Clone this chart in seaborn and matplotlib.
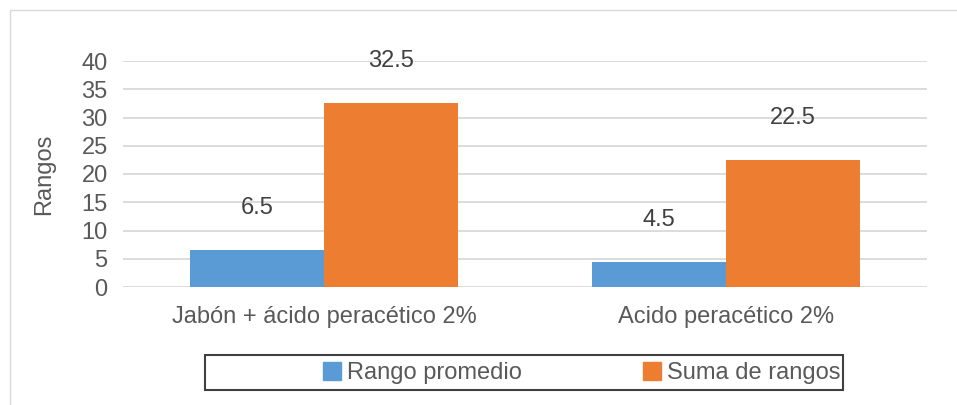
import matplotlib
matplotlib.use("Agg")
import matplotlib.pyplot as plt
from matplotlib.patches import Rectangle
import pandas as pd
import seaborn as sns

categories = ["Jabón + ácido peracético 2%", "Acido peracético 2%"]
series_names = ["Rango promedio", "Suma de rangos"]
rango_promedio = [6.5, 4.5]
suma_rangos = [32.5, 22.5]
yticks = [0, 5, 10, 15, 20, 25, 30, 35, 40]

colors = ["#5b9bd5", "#ed7d31"]
text_color = "#595959"
fs = 17

sns.set_theme(style="white")
plt.rcParams["font.family"] = ["Liberation Sans", "DejaVu Sans"]

df = pd.DataFrame({
    "Categoría": categories * 2,
    "Serie": [series_names[0]] * 2 + [series_names[1]] * 2,
    "Valor": rango_promedio + suma_rangos,
})

W, H = 957, 405
fig = plt.figure(figsize=(W / 100, H / 100), dpi=100)
ax = fig.add_axes([123 / W, 1 - 287 / H, (927 - 123) / W, (287 - 61) / H])

sns.barplot(data=df, x="Categoría", y="Valor", hue="Serie", hue_order=series_names,
            order=categories, palette=colors, width=0.667, saturation=1,
            ax=ax, zorder=3, linewidth=0)

ax.set_xlim(-0.5, 1.5)
ax.set_ylim(0, 40)
ax.set_yticks(yticks)
ax.set_yticklabels([str(v) for v in yticks])
ax.yaxis.grid(True, color="#d9d9d9", linewidth=1.3, zorder=0)
ax.xaxis.grid(False)
for s in ax.spines.values():
    s.set_visible(False)
ax.tick_params(axis="both", length=0, labelsize=fs, labelcolor=text_color)
ax.tick_params(axis="y", pad=11)
ax.tick_params(axis="x", pad=14)
ax.set_xlabel("")
ax.set_ylabel("Rangos", fontsize=fs, color=text_color, labelpad=19)

# value labels above each bar
for cont in ax.containers:
    for bar in cont:
        h = bar.get_height()
        ax.annotate(f"{h:.1f}", (bar.get_x() + bar.get_width() / 2, h),
                    xytext=(0, 42), textcoords="offset pixels",
                    ha="center", va="center", fontsize=fs, color="#404040")

ax.get_legend().remove()

# legend frame drawn separately, entries placed inside it
fig.patches.append(Rectangle((205 / W, 1 - 390 / H), (843 - 205) / W, 35 / H,
                             transform=fig.transFigure, fill=False,
                             edgecolor="#404040", linewidth=1.5))
handles = [Rectangle((0, 0), 1, 1, color=c) for c in colors]
fig.legend(handles, series_names, loc="center left",
           bbox_to_anchor=(323 / W, 1 - 373 / H), ncol=2,
           frameon=False, fontsize=fs, borderpad=0, borderaxespad=0,
           handlelength=0.78, handleheight=0.78, handletextpad=0.25,
           columnspacing=5.1, labelcolor=text_color)

# light chart-area border
fig.patches.append(Rectangle((10 / W, -0.1), 1.2, 1 - 10 / H + 0.1,
                             transform=fig.transFigure, fill=False,
                             edgecolor="#d9d9d9", linewidth=1))

fig.savefig("out.png", dpi=100)
